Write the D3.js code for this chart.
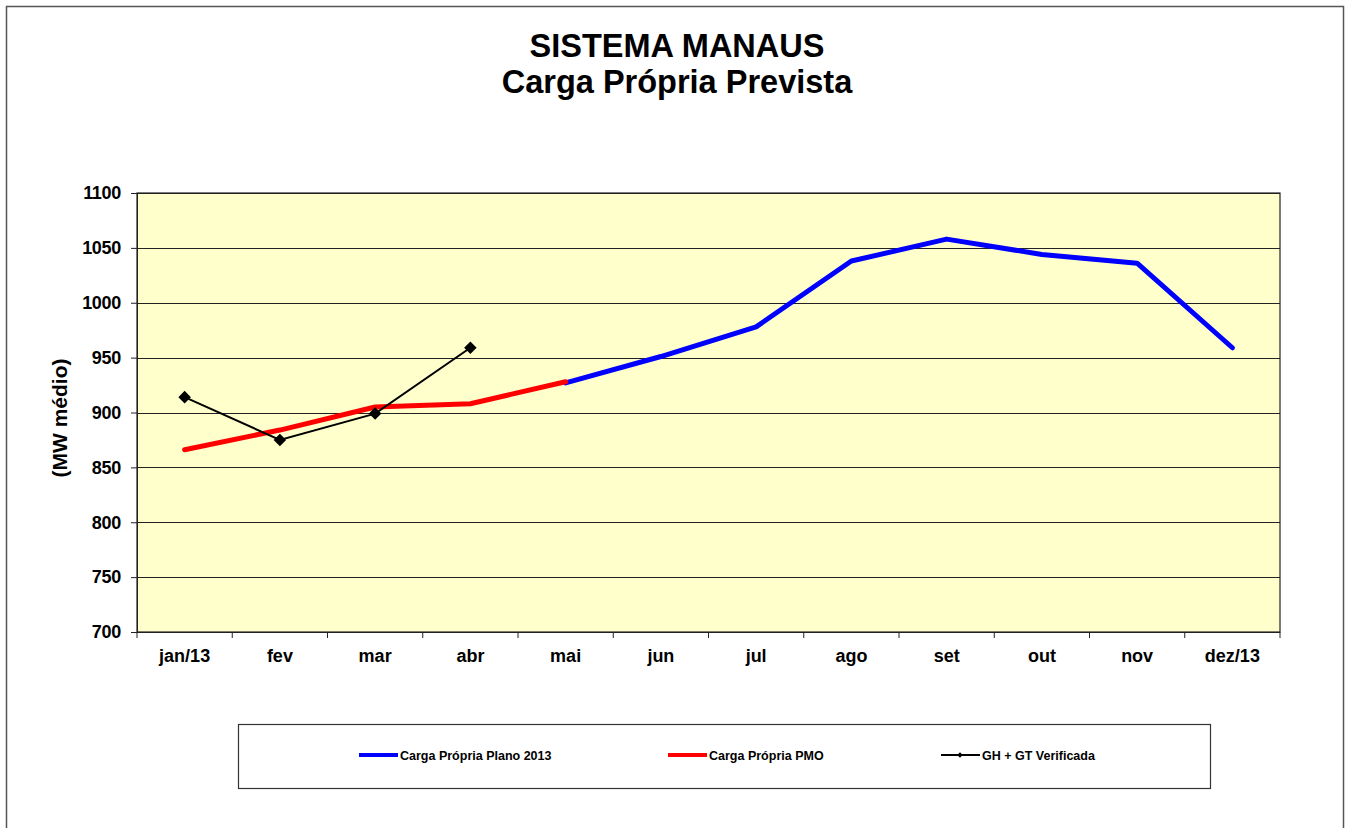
<!DOCTYPE html>
<html>
<head>
<meta charset="utf-8">
<script src="https://cdn.jsdelivr.net/npm/d3@7"></script>
<style>
  body { margin: 0; background: #fff; }
  text { font-family: "Liberation Sans", Arial, sans-serif; font-weight: bold; }
</style>
</head>
<body>
<div id="chart"></div>
<script>
const months = ["jan/13", "fev", "mar", "abr", "mai", "jun", "jul", "ago", "set", "out", "nov", "dez/13"];
const planoMonths = ["mai", "jun", "jul", "ago", "set", "out", "nov", "dez/13"];
const planoValues = [927, 951, 978, 1038, 1058, 1044, 1036, 959];
const pmoMonths = ["jan/13", "fev", "mar", "abr", "mai"];
const pmoValues = [866, 884, 905, 908, 928];
const verifMonths = ["jan/13", "fev", "mar", "abr"];
const verifValues = [914, 875, 899, 959];
const yTicks = [700, 750, 800, 850, 900, 950, 1000, 1050, 1100];

const W = 1348, H = 828;
const plot = { left: 137, right: 1280, top: 193, bottom: 632 };

const svg = d3.select("#chart").append("svg")
  .attr("width", W)
  .attr("height", H);

// outer frame
svg.append("rect")
  .attr("x", 6.5).attr("y", 6.5)
  .attr("width", 1337).attr("height", 840)
  .attr("fill", "none")
  .attr("stroke", "#555")
  .attr("stroke-width", 1.5);

svg.append("text")
  .attr("x", 677).attr("y", 57)
  .attr("text-anchor", "middle")
  .style("font-size", "32.5px")
  .text("SISTEMA MANAUS");

svg.append("text")
  .attr("x", 677).attr("y", 93)
  .attr("text-anchor", "middle")
  .style("font-size", "32.5px")
  .text("Carga Própria Prevista");

const x = d3.scaleBand()
  .domain(months)
  .range([plot.left, plot.right]);

const y = d3.scaleLinear()
  .domain([700, 1100])
  .range([plot.bottom, plot.top]);

svg.append("rect")
  .attr("x", plot.left).attr("y", plot.top)
  .attr("width", plot.right - plot.left)
  .attr("height", plot.bottom - plot.top)
  .attr("fill", "#ffffcc");

// gridlines
svg.append("g")
  .selectAll("line")
  .data(yTicks)
  .enter()
  .append("line")
    .attr("x1", plot.left).attr("x2", plot.right)
    .attr("y1", d => Math.round(y(d)) + 0.5)
    .attr("y2", d => Math.round(y(d)) + 0.5)
    .attr("stroke", "#222")
    .attr("stroke-width", 1.2);

svg.append("rect")
  .attr("x", plot.left).attr("y", plot.top)
  .attr("width", plot.right - plot.left)
  .attr("height", plot.bottom - plot.top)
  .attr("fill", "none")
  .attr("stroke", "#222")
  .attr("stroke-width", 1.2);

// y axis
const yAxis = svg.append("g")
  .attr("transform", "translate(" + plot.left + ",0)")
  .call(d3.axisLeft(y).tickValues(yTicks).tickFormat(d3.format("d")).tickSize(6).tickPadding(10));
yAxis.select(".domain").attr("stroke", "#222");
yAxis.selectAll(".tick line").attr("stroke", "#222");
yAxis.selectAll("text")
  .style("font-size", "18px")
  .style("letter-spacing", "-0.3px")
  .attr("fill", "#000");

// x axis
const xAxis = svg.append("g")
  .attr("transform", "translate(0," + plot.bottom + ")")
  .call(d3.axisBottom(x).tickSize(0).tickPadding(17));
xAxis.select(".domain").remove();
xAxis.selectAll("text")
  .style("font-size", "18px")
  .attr("fill", "#000");
svg.append("g")
  .selectAll("line")
  .data(months.concat(["end"]))
  .enter()
  .append("line")
    .attr("x1", (d, i) => plot.left + i * x.bandwidth())
    .attr("x2", (d, i) => plot.left + i * x.bandwidth())
    .attr("y1", plot.bottom)
    .attr("y2", plot.bottom + 6)
    .attr("stroke", "#222");

svg.append("text")
  .attr("transform", "translate(67,418) rotate(-90)")
  .attr("text-anchor", "middle")
  .style("font-size", "21px")
  .text("(MW médio)");

const line = d3.line()
  .x(d => x(d[0]) + x.bandwidth() / 2)
  .y(d => y(d[1]));

const plano = d3.zip(planoMonths, planoValues);
const pmo = d3.zip(pmoMonths, pmoValues);
const verif = d3.zip(verifMonths, verifValues);

svg.append("path")
  .datum(plano)
  .attr("d", line)
  .attr("fill", "none")
  .attr("stroke", "#0000ff")
  .attr("stroke-width", 5)
  .attr("stroke-linejoin", "round")
  .attr("stroke-linecap", "round");

svg.append("path")
  .datum(pmo)
  .attr("d", line)
  .attr("fill", "none")
  .attr("stroke", "#ff0000")
  .attr("stroke-width", 5)
  .attr("stroke-linejoin", "round")
  .attr("stroke-linecap", "round");

svg.append("path")
  .datum(verif)
  .attr("d", line)
  .attr("fill", "none")
  .attr("stroke", "#000")
  .attr("stroke-width", 2);

const diamond = d3.symbol().type(d3.symbolDiamond2).size(100);
svg.append("g")
  .selectAll("path")
  .data(verif)
  .enter()
  .append("path")
    .attr("d", diamond)
    .attr("transform", d => "translate(" + (x(d[0]) + x.bandwidth() / 2) + "," + y(d[1]) + ")")
    .attr("fill", "#000");

// legend
const legend = svg.append("g");
legend.append("rect")
  .attr("x", 238.5).attr("y", 724.5)
  .attr("width", 972).attr("height", 64)
  .attr("fill", "#fff")
  .attr("stroke", "#333")
  .attr("stroke-width", 1.2);

const legendItems = [
  { label: "Carga Própria Plano 2013", color: "#0000ff", x: 359, w: 4 },
  { label: "Carga Própria PMO", color: "#ff0000", x: 668, w: 4 },
  { label: "GH + GT Verificada", color: "#000", x: 941, w: 2, marker: true }
];
legendItems.forEach(d => {
  legend.append("line")
    .attr("x1", d.x).attr("x2", d.x + 39)
    .attr("y1", 755).attr("y2", 755)
    .attr("stroke", d.color)
    .attr("stroke-width", d.w);
  if (d.marker) {
    legend.append("path")
      .attr("d", d3.symbol().type(d3.symbolDiamond2).size(20))
      .attr("transform", "translate(" + (d.x + 19) + ",755)")
      .attr("fill", "#000");
  }
  legend.append("text")
    .attr("x", d.x + 41).attr("y", 760)
    .style("font-size", "12.5px")
    .text(d.label);
});
</script>
</body>
</html>
